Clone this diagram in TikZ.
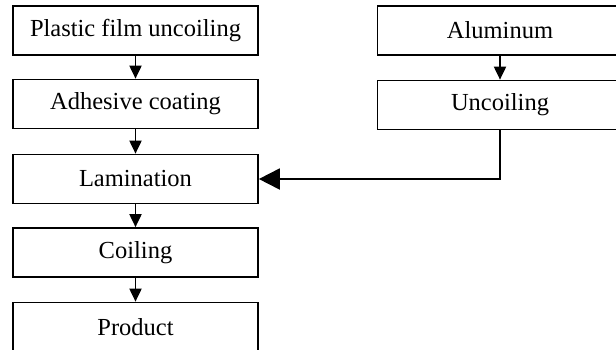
\documentclass[tikz,border=0pt]{standalone}
\usepackage{fontspec}
\setmainfont{Liberation Serif}
\usetikzlibrary{arrows.meta}
\begin{document}
\begin{tikzpicture}[x=1pt,y=-1pt,
  box/.style={draw, line width=1.7pt, minimum width=245pt, minimum height=49pt, inner sep=0pt, font=\fontsize{24.5}{26}\selectfont},
  flow/.style={line width=1.9pt, -{Triangle[length=13pt,width=12pt]}},
  bigflow/.style={line width=1.9pt, -{Triangle[length=21pt,width=21pt]}}]
\useasboundingbox (0,0) rectangle (616,349);
\clip (0,0) rectangle (616,349);
\node[box] (pf) at (135.5,30.5) {Plastic film uncoiling};
\node[box] (ad) at (135.5,104) {Adhesive coating};
\node[box] (la) at (135.5,179) {Lamination};
\node[box] (co) at (135.5,252.5) {Coiling};
\node[box] (pr) at (135.5,327) {Product};
\node[box] (al) at (500,30.5) {Aluminum};
\node[box] (un) at (500,105) {Uncoiling};
\draw[flow] (pf) -- (ad);
\draw[flow] (ad) -- (la);
\draw[flow] (la) -- (co);
\draw[flow] (co) -- (pr);
\draw[flow] (al) -- (un);
\draw[bigflow] (un.south) |- (la.east);
\end{tikzpicture}
\end{document}
